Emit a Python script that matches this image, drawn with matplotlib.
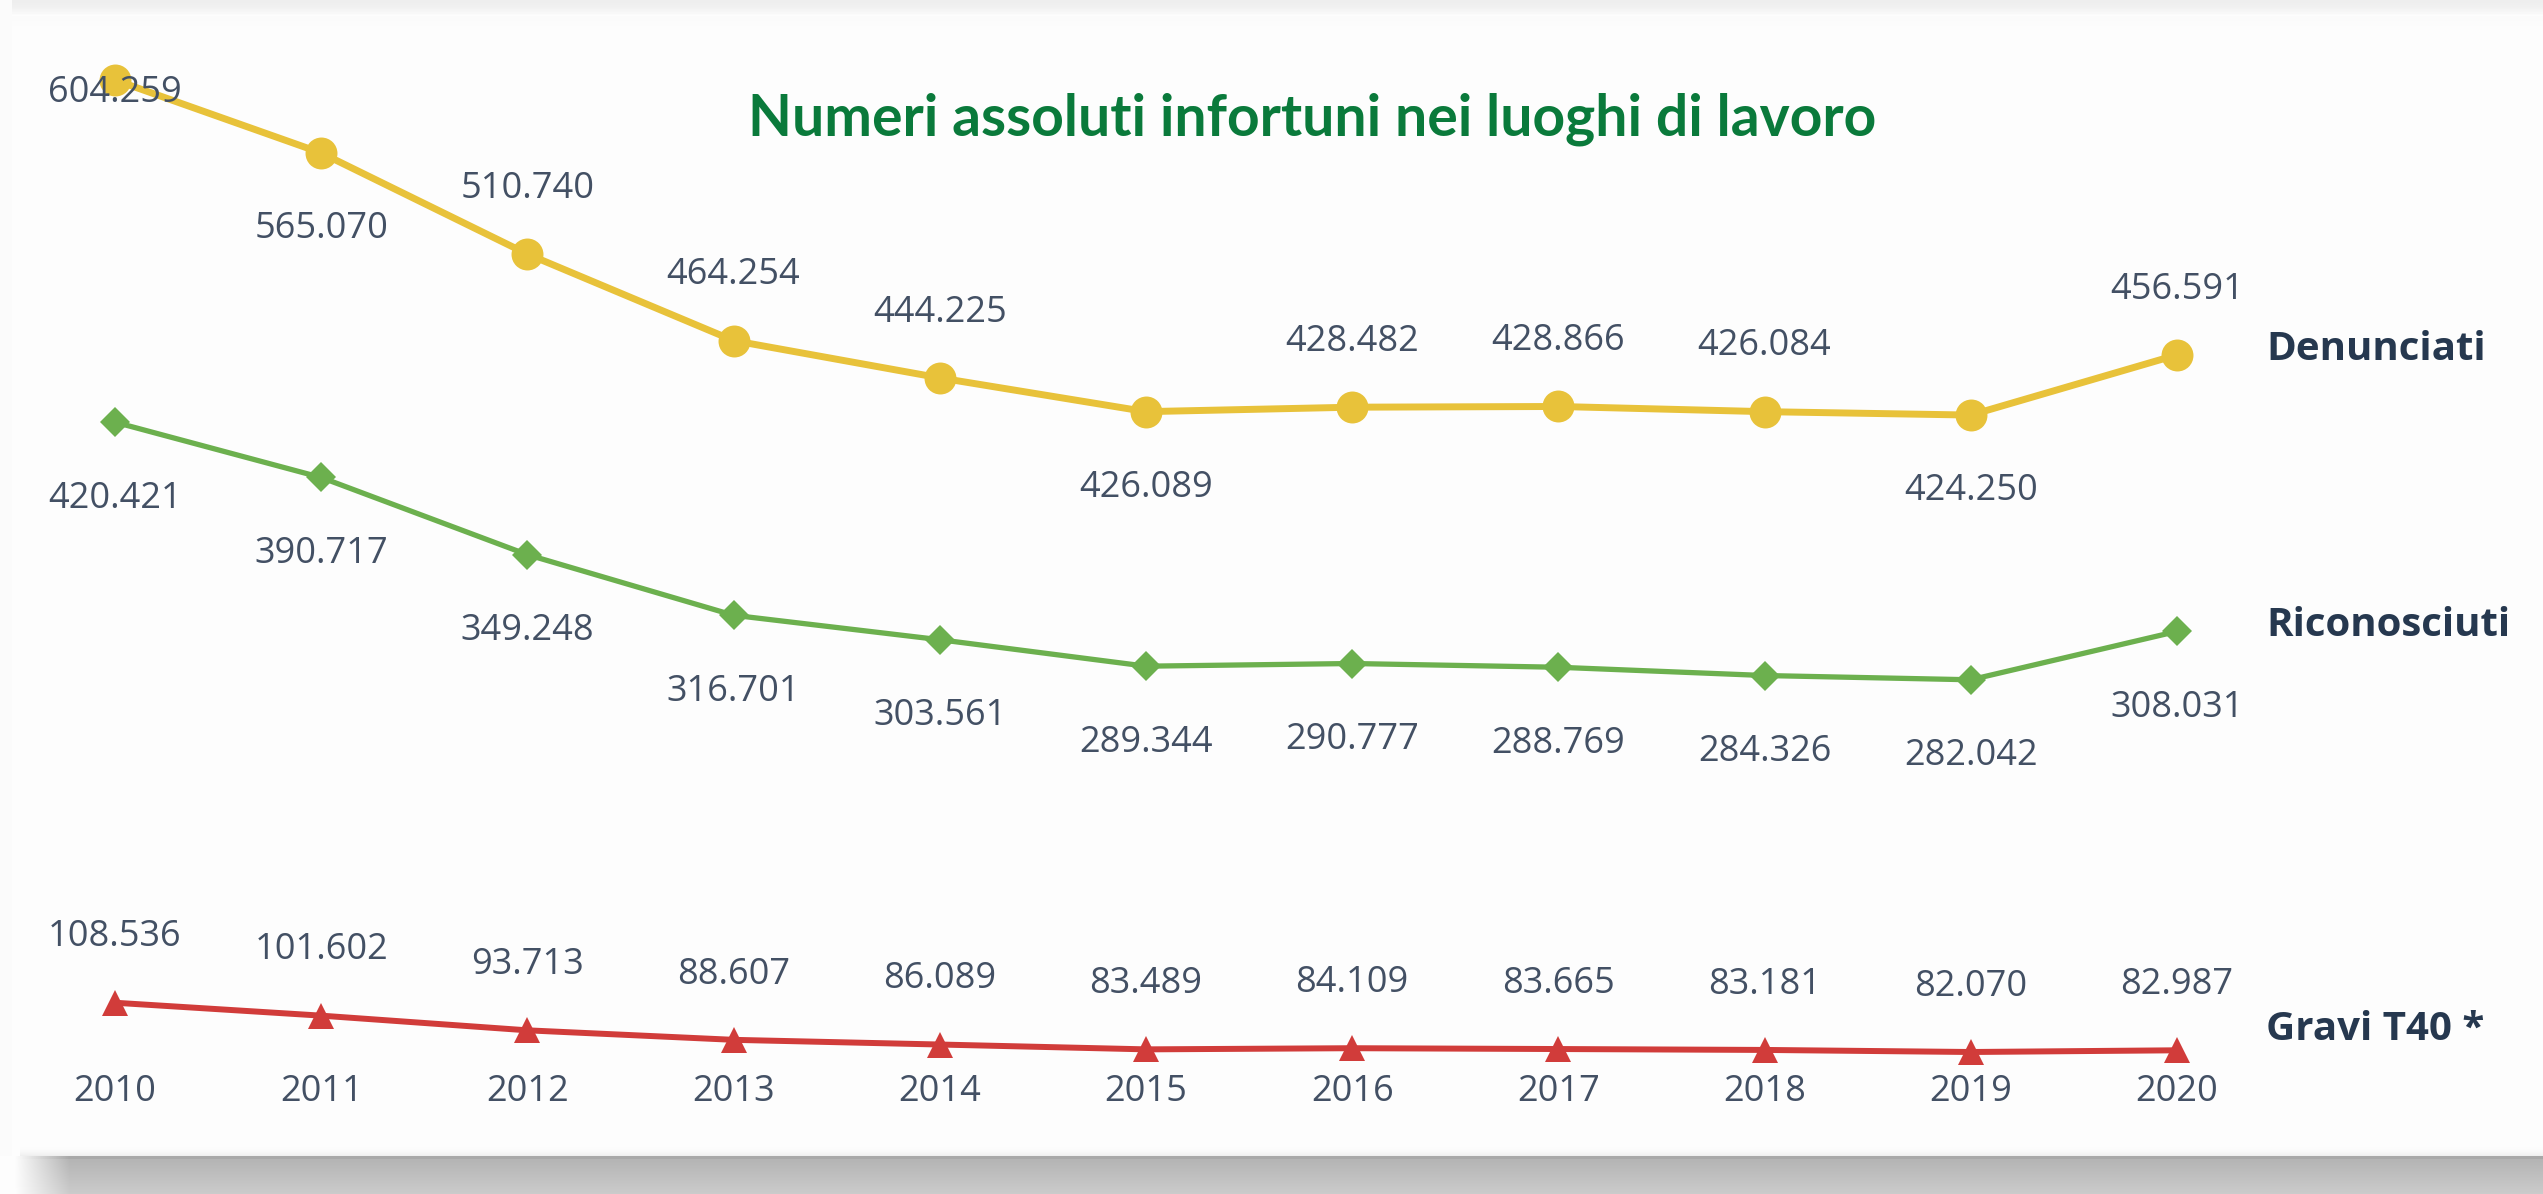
import numpy as np
import matplotlib
matplotlib.use("Agg")
import matplotlib.pyplot as plt

# ---------------- data ----------------
years = [2010, 2011, 2012, 2013, 2014, 2015, 2016, 2017, 2018, 2019, 2020]
denunciati = [604259, 565070, 510740, 464254, 444225, 426089, 428482, 428866, 426084, 424250, 456591]
riconosciuti = [420421, 390717, 349248, 316701, 303561, 289344, 290777, 288769, 284326, 282042, 308031]
gravi = [108536, 101602, 93713, 88607, 86089, 83489, 84109, 83665, 83181, 82070, 82987]
# label placement: +1 above, -1 below, 0 on the marker
den_pos = [0, -1, 1, 1, 1, -1, 1, 1, 1, -1, 1]
ric_pos = [-1] * 11
gra_pos = [1] * 11
series_names = ["Denunciati", "Riconosciuti", "Gravi T40 *"]
title = "Numeri assoluti infortuni nei luoghi di lavoro"

W, H = 2543, 1194
DPI = 100
fig = plt.figure(figsize=(W / DPI, H / DPI), dpi=DPI)

# ---------------- background card with shadow ----------------
bg = np.full((H, W, 3), 0.996)
# top grey band
for r in range(0, 16):
    t = r / 15.0
    bg[r, :, :] = 0.935 + (0.996 - 0.935) * t ** 2
bg[12:14, :, :] = 0.975
for r in range(16, 30):
    bg[r, :, :] = 0.985 + (0.996 - 0.985) * (r - 16) / 14
# left edge
bg[:, :12, :] = 0.985
# bottom shadow
top = 1156
for r in range(top, H):
    t = (r - top) / (H - top)
    g = 0.70 + 0.10 * t
    if r < top + 3:
        g = 0.66
    bg[r, :, :] = g
# fade shadow on the left
for c in range(0, 70):
    if c < 14:
        a = 0.0
    else:
        a = min(1.0, (c - 14) / 55.0)
    bg[top:, c, :] = 0.996 * (1 - a) + bg[top:, 200, :] * a
# faint grey transition above shadow
for r in range(top - 12, top):
    bg[r, 20:, :] = 0.996 - (0.996 - 0.93) * ((r - (top - 12)) / 12) ** 2
bax = fig.add_axes([0, 0, 1, 1], zorder=0)
bax.imshow(bg, aspect="auto", interpolation="bilinear")
bax.axis("off")

# ---------------- chart axes ----------------
ax = fig.add_axes([0, 0, 1, 1], zorder=1)
ax.patch.set_alpha(0)
ax.axis("off")

x0_px, dx_px = 115.0, 206.2
ky = 0.0018614  # px per unit
y_ref_px, y_ref_val = 80.0, 604259
ax.set_xlim(years[0] - x0_px / dx_px, years[0] + (W - x0_px) / dx_px)
ax.set_ylim(y_ref_val - (H - y_ref_px) / ky, y_ref_val + y_ref_px / ky)

col_den = "#e8c23a"
col_ric = "#6cb04e"
col_gra = "#d13c3a"
txt_col = "#435064"
name_col = "#26384f"

ax.plot(years, denunciati, color=col_den, lw=5, marker="o", ms=23,
        markeredgewidth=0, solid_capstyle="round", zorder=3)
ax.plot(years, riconosciuti, color=col_ric, lw=3.8, marker="D", ms=15,
        markeredgewidth=0, zorder=3)
ax.plot(years, gravi, color=col_gra, lw=4.3, marker="^", ms=19,
        markeredgewidth=0, zorder=3)

def fmt(v):
    return f"{v:,}".replace(",", ".")

lab_font = dict(family=["Open Sans", "DejaVu Sans"], size=26, color=txt_col)

def add_labels(xs, vals, pos):
    for x, v, p in zip(xs, vals, pos):
        if p > 0:
            off = 47
        elif p < 0:
            off = -55
        else:
            off = -9
        ax.annotate(fmt(v), (x, v), xytext=(0, off), textcoords="offset points",
                    ha="center", va="center", zorder=4, **lab_font)

add_labels(years, denunciati, den_pos)
add_labels(years, riconosciuti, ric_pos)
add_labels(years, gravi, gra_pos)

# year labels
for x in years:
    ax.text(x, 1 - 1092 / H, str(x), transform=ax.get_xaxis_transform(),
            ha="center", va="center", zorder=4, **lab_font)

# series names at the end of each line
name_font = dict(family=["Open Sans", "DejaVu Sans"], size=29, weight="bold", color=name_col)
ends = [(denunciati[-1], 4), (riconosciuti[-1], 4), (gravi[-1], 15)]
for name, (v, dy) in zip(series_names, ends):
    ax.annotate(name, (years[-1], v), xytext=(64, dy), textcoords="offset points",
                ha="left", va="center", zorder=4, **name_font)

# title
fig.text(1312 / W, 1 - 119 / H, title, ha="center", va="center",
         family=["Lato", "DejaVu Sans"], weight="bold", size=41, color="#0a7a3b", zorder=5)

fig.savefig("out.png", dpi=DPI)
